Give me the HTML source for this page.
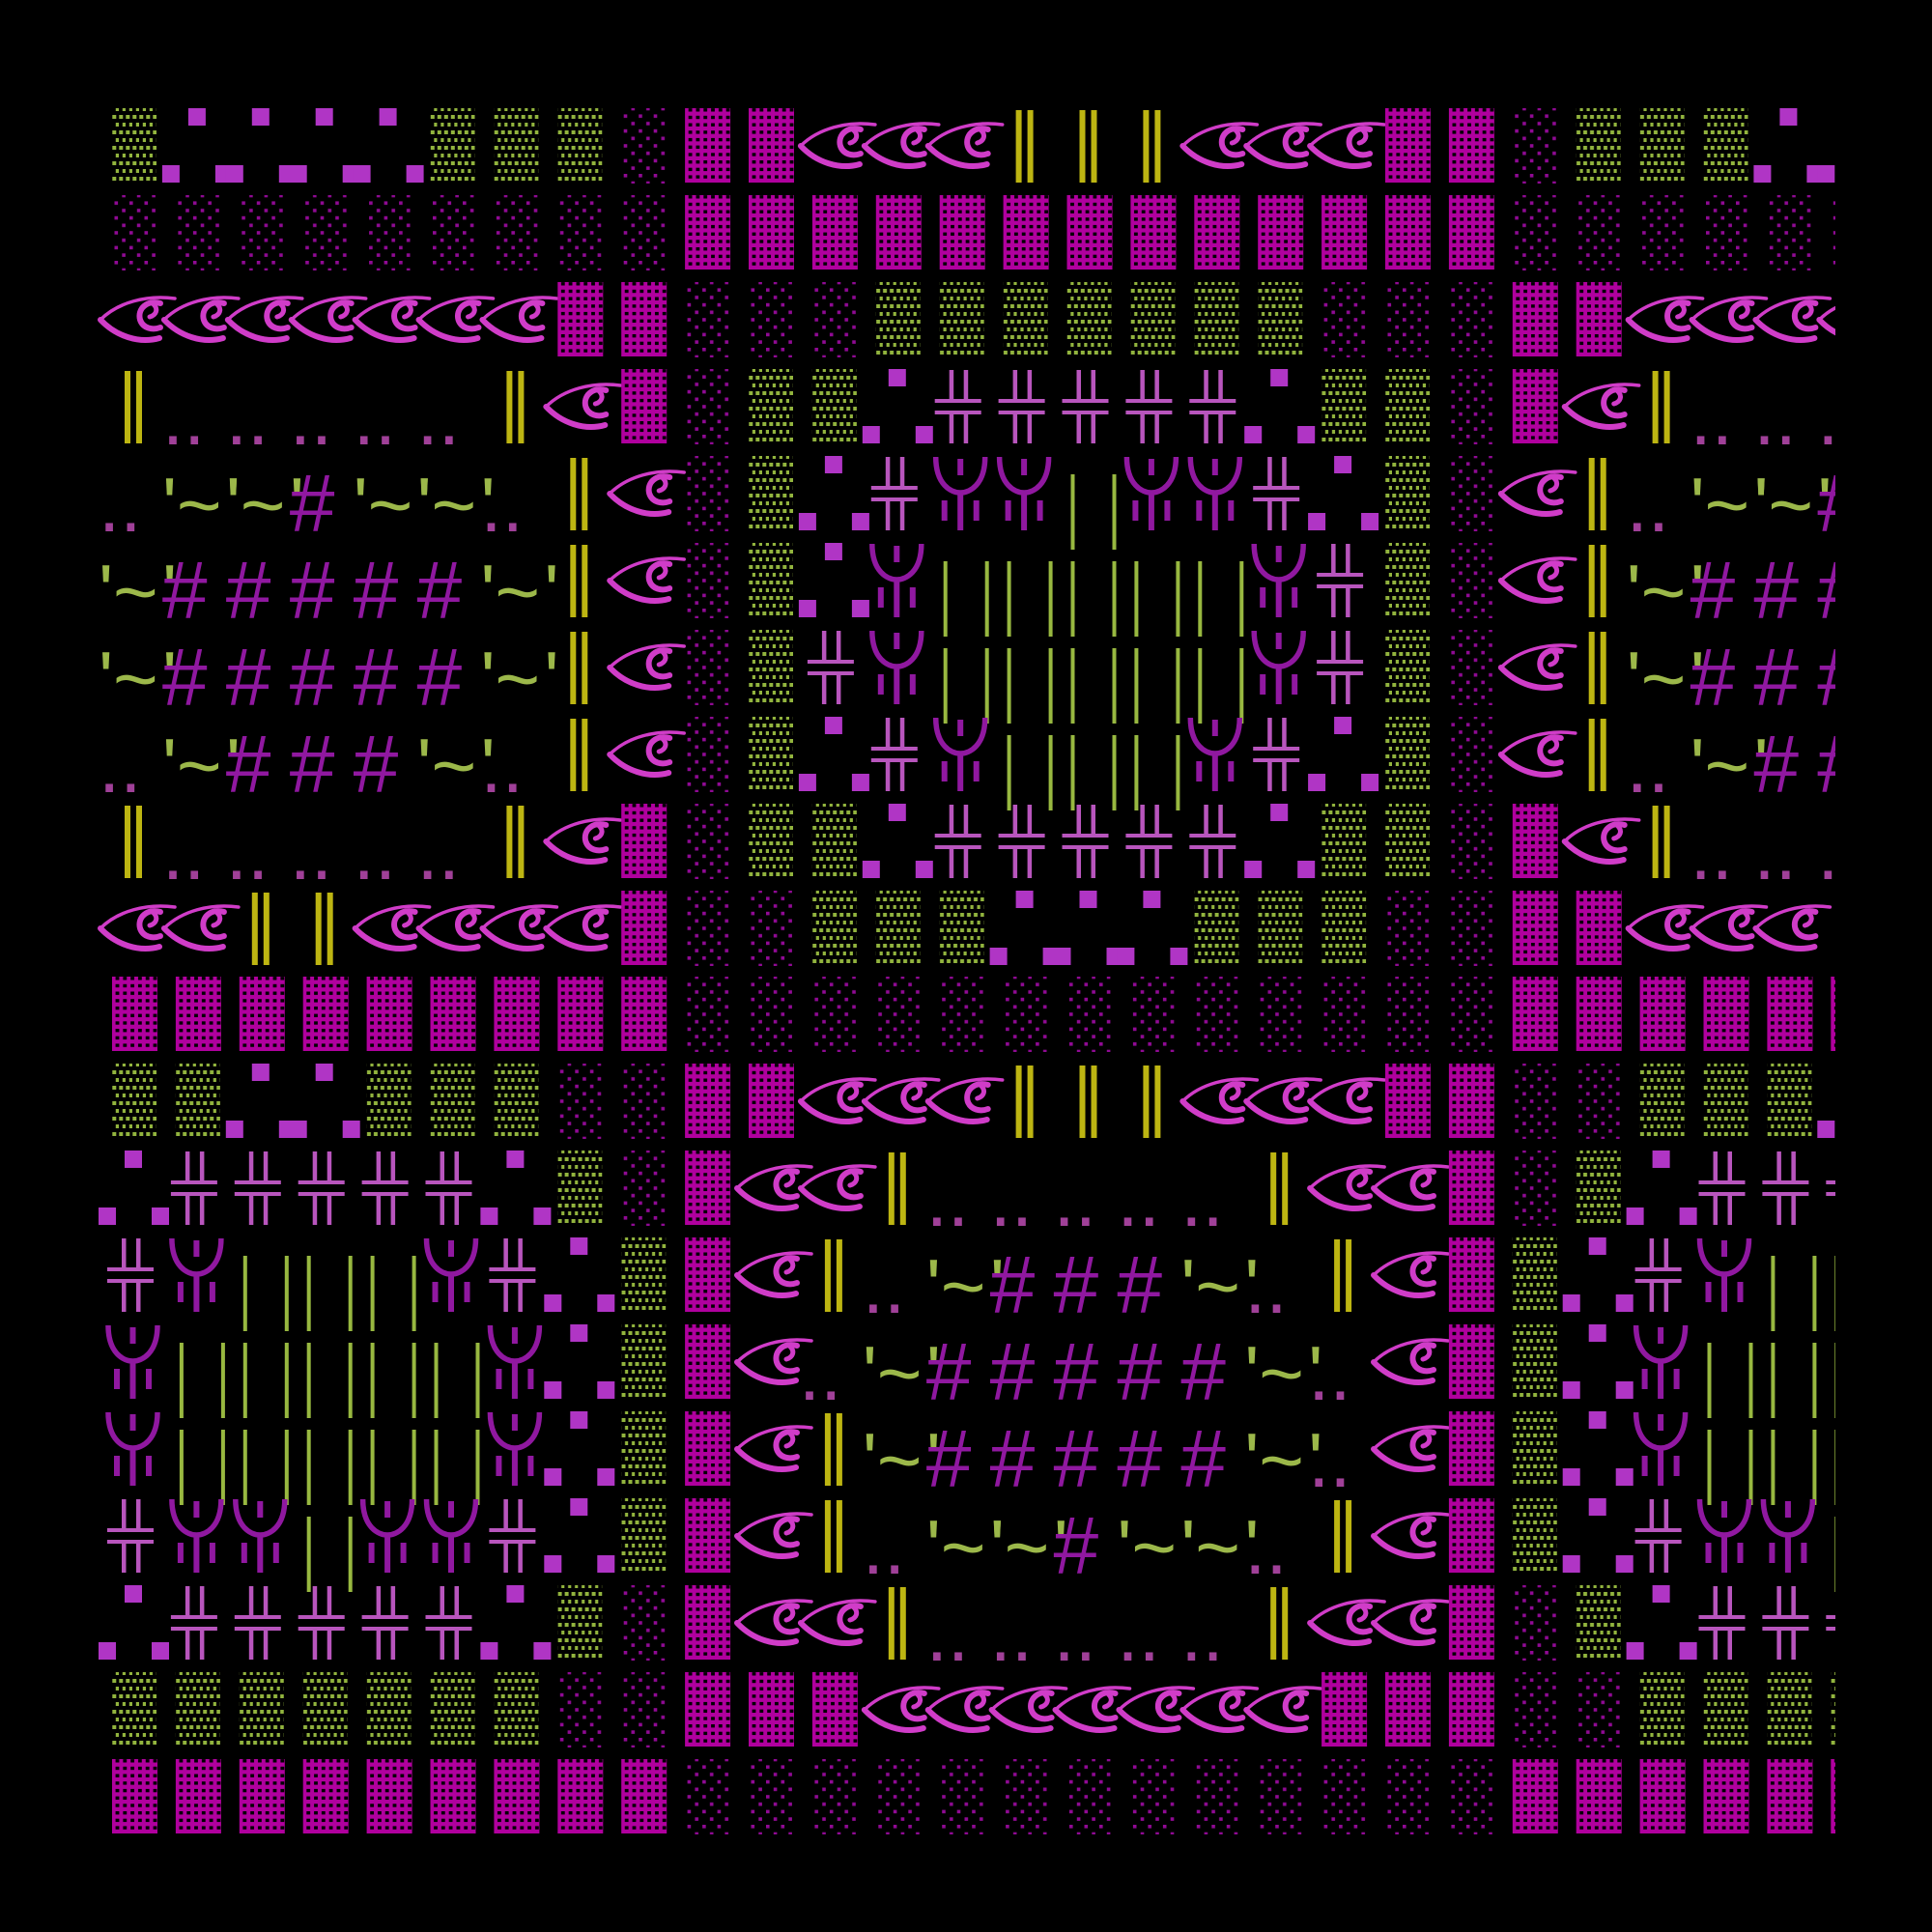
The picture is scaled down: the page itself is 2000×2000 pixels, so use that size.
<!DOCTYPE html>
<html><head><meta charset="utf-8"><style>
html,body{margin:0;padding:0;background:#000;width:2000px;height:2000px;overflow:hidden}
svg{display:block}
text{font-family:"Liberation Sans",sans-serif;font-size:80px}
</style></head><body>
<svg width="2000" height="2000" viewBox="0 0 2000 2000" xmlns="http://www.w3.org/2000/svg">
<defs>
<pattern id="pp" width="7.8" height="7.7" patternUnits="userSpaceOnUse"><rect width="7.8" height="7.7" fill="#b0009e"/><rect x="2" y="2.4" width="3.8" height="3.4" fill="#000"/></pattern>
<pattern id="gp" width="7" height="16" patternUnits="userSpaceOnUse"><rect x="0.3" y="1" width="4" height="4" fill="#92b43e"/><rect x="3.8" y="9" width="4" height="4" fill="#92b43e"/></pattern>
<pattern id="dp" width="15.5" height="15.4" patternUnits="userSpaceOnUse"><rect x="1" y="1" width="3.6" height="3.6" fill="#900a94"/><rect x="8.8" y="8.7" width="3.6" height="3.6" fill="#900a94"/></pattern>
<clipPath id="clip"><rect x="0" y="0" width="1900" height="2000"/></clipPath>
<g id="P"><rect x="14" y="10" width="47" height="77" fill="url(#pp)"/></g>
<g id="G"><rect x="14" y="10" width="46" height="78" fill="url(#gp)"/></g>
<g id="D"><rect x="14" y="10" width="47" height="78" fill="url(#dp)"/></g>
<g id="E" fill="none" stroke="#d03cc8" stroke-linecap="round">
<path d="M2,49 C20,31 50,23 79,27" stroke-width="3.5"/>
<path d="M2,49 C18,66 42,74 63,68" stroke-width="6"/>
<path d="M64,32 C50,28 40,38 43,49 C46,58 56,60 64,57" stroke-width="6"/>
<path d="M57,33 C62,38 60,44 53,46" stroke-width="5"/>
</g>
<g id="Y" fill="#bdb512"><rect x="27" y="12" width="6" height="75"/><rect x="39" y="12" width="6" height="75"/></g>
<g id="S" fill="#b035c5"><rect x="27" y="10" width="18" height="18"/><rect x="0" y="69" width="18" height="18"/><rect x="55" y="69" width="18" height="18"/></g>
<g id="X" fill="#b855bd"><rect x="9" y="41" width="48" height="4"/><rect x="9" y="53" width="48" height="4"/><rect x="24" y="11" width="4.5" height="32"/><rect x="39" y="11" width="4.5" height="32"/><rect x="24" y="55" width="4.5" height="32"/><rect x="39" y="55" width="4.5" height="32"/></g>
<g id="U" fill="#9018a0"><path d="M10,11 C10,40 26,48 35.5,48 C45,48 61,40 61,11" fill="none" stroke="#9018a0" stroke-width="5.5"/><rect x="32.5" y="46" width="6" height="41"/><rect x="32.5" y="13" width="6" height="17"/><rect x="16" y="56" width="6" height="21"/><rect x="49" y="56" width="6" height="21"/></g>
<g id="L" fill="#98b840"><rect x="18" y="29" width="4" height="78"/><rect x="61" y="29" width="4" height="78"/></g>
<g id="T" fill="#9cb84a"><text x="0 15 66" y="88">'~'</text></g>
<g id="H" fill="#9018a0"><text x="0" y="88" style="font-size:84px">#</text></g>
<g id="O" fill="#a04098"><text x="0" y="88">..</text></g>
</defs>
<rect width="2000" height="2000" fill="#000"/>
<g clip-path="url(#clip)">
<g transform="translate(102,102)">
<use href="#G" x="0"/><use href="#S" x="65.9"/><use href="#S" x="131.8"/><use href="#S" x="197.7"/><use href="#S" x="263.6"/><use href="#G" x="329.5"/><use href="#G" x="395.4"/><use href="#G" x="461.3"/><use href="#D" x="527.2"/><use href="#P" x="593.1"/><use href="#P" x="659"/><use href="#E" x="724.9"/><use href="#E" x="790.8"/><use href="#E" x="856.7"/><use href="#Y" x="922.6"/><use href="#Y" x="988.5"/><use href="#Y" x="1054.4"/><use href="#E" x="1120.3"/><use href="#E" x="1186.2"/><use href="#E" x="1252.1"/><use href="#P" x="1318"/><use href="#P" x="1383.9"/><use href="#D" x="1449.8"/><use href="#G" x="1515.7"/><use href="#G" x="1581.6"/><use href="#G" x="1647.5"/><use href="#S" x="1713.4"/><use href="#S" x="1779.3"/>
</g>
<g transform="translate(102,192)">
<use href="#D" x="0"/><use href="#D" x="65.9"/><use href="#D" x="131.8"/><use href="#D" x="197.7"/><use href="#D" x="263.6"/><use href="#D" x="329.5"/><use href="#D" x="395.4"/><use href="#D" x="461.3"/><use href="#D" x="527.2"/><use href="#P" x="593.1"/><use href="#P" x="659"/><use href="#P" x="724.9"/><use href="#P" x="790.8"/><use href="#P" x="856.7"/><use href="#P" x="922.6"/><use href="#P" x="988.5"/><use href="#P" x="1054.4"/><use href="#P" x="1120.3"/><use href="#P" x="1186.2"/><use href="#P" x="1252.1"/><use href="#P" x="1318"/><use href="#P" x="1383.9"/><use href="#D" x="1449.8"/><use href="#D" x="1515.7"/><use href="#D" x="1581.6"/><use href="#D" x="1647.5"/><use href="#D" x="1713.4"/><use href="#D" x="1779.3"/>
</g>
<g transform="translate(102,282)">
<use href="#E" x="0"/><use href="#E" x="65.9"/><use href="#E" x="131.8"/><use href="#E" x="197.7"/><use href="#E" x="263.6"/><use href="#E" x="329.5"/><use href="#E" x="395.4"/><use href="#P" x="461.3"/><use href="#P" x="527.2"/><use href="#D" x="593.1"/><use href="#D" x="659"/><use href="#D" x="724.9"/><use href="#G" x="790.8"/><use href="#G" x="856.7"/><use href="#G" x="922.6"/><use href="#G" x="988.5"/><use href="#G" x="1054.4"/><use href="#G" x="1120.3"/><use href="#G" x="1186.2"/><use href="#D" x="1252.1"/><use href="#D" x="1318"/><use href="#D" x="1383.9"/><use href="#P" x="1449.8"/><use href="#P" x="1515.7"/><use href="#E" x="1581.6"/><use href="#E" x="1647.5"/><use href="#E" x="1713.4"/><use href="#E" x="1779.3"/>
</g>
<g transform="translate(102,372)">
<use href="#Y" x="0"/><use href="#O" x="65.9"/><use href="#O" x="131.8"/><use href="#O" x="197.7"/><use href="#O" x="263.6"/><use href="#O" x="329.5"/><use href="#Y" x="395.4"/><use href="#E" x="461.3"/><use href="#P" x="527.2"/><use href="#D" x="593.1"/><use href="#G" x="659"/><use href="#G" x="724.9"/><use href="#S" x="790.8"/><use href="#X" x="856.7"/><use href="#X" x="922.6"/><use href="#X" x="988.5"/><use href="#X" x="1054.4"/><use href="#X" x="1120.3"/><use href="#S" x="1186.2"/><use href="#G" x="1252.1"/><use href="#G" x="1318"/><use href="#D" x="1383.9"/><use href="#P" x="1449.8"/><use href="#E" x="1515.7"/><use href="#Y" x="1581.6"/><use href="#O" x="1647.5"/><use href="#O" x="1713.4"/><use href="#O" x="1779.3"/>
</g>
<g transform="translate(102,462)">
<use href="#O" x="0"/><use href="#T" x="65.9"/><use href="#T" x="131.8"/><use href="#H" x="197.7"/><use href="#T" x="263.6"/><use href="#T" x="329.5"/><use href="#O" x="395.4"/><use href="#Y" x="461.3"/><use href="#E" x="527.2"/><use href="#D" x="593.1"/><use href="#G" x="659"/><use href="#S" x="724.9"/><use href="#X" x="790.8"/><use href="#U" x="856.7"/><use href="#U" x="922.6"/><use href="#L" x="988.5"/><use href="#U" x="1054.4"/><use href="#U" x="1120.3"/><use href="#X" x="1186.2"/><use href="#S" x="1252.1"/><use href="#G" x="1318"/><use href="#D" x="1383.9"/><use href="#E" x="1449.8"/><use href="#Y" x="1515.7"/><use href="#O" x="1581.6"/><use href="#T" x="1647.5"/><use href="#T" x="1713.4"/><use href="#H" x="1779.3"/>
</g>
<g transform="translate(102,552)">
<use href="#T" x="0"/><use href="#H" x="65.9"/><use href="#H" x="131.8"/><use href="#H" x="197.7"/><use href="#H" x="263.6"/><use href="#H" x="329.5"/><use href="#T" x="395.4"/><use href="#Y" x="461.3"/><use href="#E" x="527.2"/><use href="#D" x="593.1"/><use href="#G" x="659"/><use href="#S" x="724.9"/><use href="#U" x="790.8"/><use href="#L" x="856.7"/><use href="#L" x="922.6"/><use href="#L" x="988.5"/><use href="#L" x="1054.4"/><use href="#L" x="1120.3"/><use href="#U" x="1186.2"/><use href="#X" x="1252.1"/><use href="#G" x="1318"/><use href="#D" x="1383.9"/><use href="#E" x="1449.8"/><use href="#Y" x="1515.7"/><use href="#T" x="1581.6"/><use href="#H" x="1647.5"/><use href="#H" x="1713.4"/><use href="#H" x="1779.3"/>
</g>
<g transform="translate(102,642)">
<use href="#T" x="0"/><use href="#H" x="65.9"/><use href="#H" x="131.8"/><use href="#H" x="197.7"/><use href="#H" x="263.6"/><use href="#H" x="329.5"/><use href="#T" x="395.4"/><use href="#Y" x="461.3"/><use href="#E" x="527.2"/><use href="#D" x="593.1"/><use href="#G" x="659"/><use href="#X" x="724.9"/><use href="#U" x="790.8"/><use href="#L" x="856.7"/><use href="#L" x="922.6"/><use href="#L" x="988.5"/><use href="#L" x="1054.4"/><use href="#L" x="1120.3"/><use href="#U" x="1186.2"/><use href="#X" x="1252.1"/><use href="#G" x="1318"/><use href="#D" x="1383.9"/><use href="#E" x="1449.8"/><use href="#Y" x="1515.7"/><use href="#T" x="1581.6"/><use href="#H" x="1647.5"/><use href="#H" x="1713.4"/><use href="#H" x="1779.3"/>
</g>
<g transform="translate(102,732)">
<use href="#O" x="0"/><use href="#T" x="65.9"/><use href="#H" x="131.8"/><use href="#H" x="197.7"/><use href="#H" x="263.6"/><use href="#T" x="329.5"/><use href="#O" x="395.4"/><use href="#Y" x="461.3"/><use href="#E" x="527.2"/><use href="#D" x="593.1"/><use href="#G" x="659"/><use href="#S" x="724.9"/><use href="#X" x="790.8"/><use href="#U" x="856.7"/><use href="#L" x="922.6"/><use href="#L" x="988.5"/><use href="#L" x="1054.4"/><use href="#U" x="1120.3"/><use href="#X" x="1186.2"/><use href="#S" x="1252.1"/><use href="#G" x="1318"/><use href="#D" x="1383.9"/><use href="#E" x="1449.8"/><use href="#Y" x="1515.7"/><use href="#O" x="1581.6"/><use href="#T" x="1647.5"/><use href="#H" x="1713.4"/><use href="#H" x="1779.3"/>
</g>
<g transform="translate(102,822)">
<use href="#Y" x="0"/><use href="#O" x="65.9"/><use href="#O" x="131.8"/><use href="#O" x="197.7"/><use href="#O" x="263.6"/><use href="#O" x="329.5"/><use href="#Y" x="395.4"/><use href="#E" x="461.3"/><use href="#P" x="527.2"/><use href="#D" x="593.1"/><use href="#G" x="659"/><use href="#G" x="724.9"/><use href="#S" x="790.8"/><use href="#X" x="856.7"/><use href="#X" x="922.6"/><use href="#X" x="988.5"/><use href="#X" x="1054.4"/><use href="#X" x="1120.3"/><use href="#S" x="1186.2"/><use href="#G" x="1252.1"/><use href="#G" x="1318"/><use href="#D" x="1383.9"/><use href="#P" x="1449.8"/><use href="#E" x="1515.7"/><use href="#Y" x="1581.6"/><use href="#O" x="1647.5"/><use href="#O" x="1713.4"/><use href="#O" x="1779.3"/>
</g>
<g transform="translate(102,912)">
<use href="#E" x="0"/><use href="#E" x="65.9"/><use href="#Y" x="131.8"/><use href="#Y" x="197.7"/><use href="#E" x="263.6"/><use href="#E" x="329.5"/><use href="#E" x="395.4"/><use href="#E" x="461.3"/><use href="#P" x="527.2"/><use href="#D" x="593.1"/><use href="#D" x="659"/><use href="#G" x="724.9"/><use href="#G" x="790.8"/><use href="#G" x="856.7"/><use href="#S" x="922.6"/><use href="#S" x="988.5"/><use href="#S" x="1054.4"/><use href="#G" x="1120.3"/><use href="#G" x="1186.2"/><use href="#G" x="1252.1"/><use href="#D" x="1318"/><use href="#D" x="1383.9"/><use href="#P" x="1449.8"/><use href="#P" x="1515.7"/><use href="#E" x="1581.6"/><use href="#E" x="1647.5"/><use href="#E" x="1713.4"/>
</g>
<g transform="translate(102,1001)">
<use href="#P" x="0"/><use href="#P" x="65.9"/><use href="#P" x="131.8"/><use href="#P" x="197.7"/><use href="#P" x="263.6"/><use href="#P" x="329.5"/><use href="#P" x="395.4"/><use href="#P" x="461.3"/><use href="#P" x="527.2"/><use href="#D" x="593.1"/><use href="#D" x="659"/><use href="#D" x="724.9"/><use href="#D" x="790.8"/><use href="#D" x="856.7"/><use href="#D" x="922.6"/><use href="#D" x="988.5"/><use href="#D" x="1054.4"/><use href="#D" x="1120.3"/><use href="#D" x="1186.2"/><use href="#D" x="1252.1"/><use href="#D" x="1318"/><use href="#D" x="1383.9"/><use href="#P" x="1449.8"/><use href="#P" x="1515.7"/><use href="#P" x="1581.6"/><use href="#P" x="1647.5"/><use href="#P" x="1713.4"/><use href="#P" x="1779.3"/>
</g>
<g transform="translate(102,1091)">
<use href="#G" x="0"/><use href="#G" x="65.9"/><use href="#S" x="131.8"/><use href="#S" x="197.7"/><use href="#G" x="263.6"/><use href="#G" x="329.5"/><use href="#G" x="395.4"/><use href="#D" x="461.3"/><use href="#D" x="527.2"/><use href="#P" x="593.1"/><use href="#P" x="659"/><use href="#E" x="724.9"/><use href="#E" x="790.8"/><use href="#E" x="856.7"/><use href="#Y" x="922.6"/><use href="#Y" x="988.5"/><use href="#Y" x="1054.4"/><use href="#E" x="1120.3"/><use href="#E" x="1186.2"/><use href="#E" x="1252.1"/><use href="#P" x="1318"/><use href="#P" x="1383.9"/><use href="#D" x="1449.8"/><use href="#D" x="1515.7"/><use href="#G" x="1581.6"/><use href="#G" x="1647.5"/><use href="#G" x="1713.4"/><use href="#S" x="1779.3"/>
</g>
<g transform="translate(102,1181)">
<use href="#S" x="0"/><use href="#X" x="65.9"/><use href="#X" x="131.8"/><use href="#X" x="197.7"/><use href="#X" x="263.6"/><use href="#X" x="329.5"/><use href="#S" x="395.4"/><use href="#G" x="461.3"/><use href="#D" x="527.2"/><use href="#P" x="593.1"/><use href="#E" x="659"/><use href="#E" x="724.9"/><use href="#Y" x="790.8"/><use href="#O" x="856.7"/><use href="#O" x="922.6"/><use href="#O" x="988.5"/><use href="#O" x="1054.4"/><use href="#O" x="1120.3"/><use href="#Y" x="1186.2"/><use href="#E" x="1252.1"/><use href="#E" x="1318"/><use href="#P" x="1383.9"/><use href="#D" x="1449.8"/><use href="#G" x="1515.7"/><use href="#S" x="1581.6"/><use href="#X" x="1647.5"/><use href="#X" x="1713.4"/><use href="#X" x="1779.3"/>
</g>
<g transform="translate(102,1271)">
<use href="#X" x="0"/><use href="#U" x="65.9"/><use href="#L" x="131.8"/><use href="#L" x="197.7"/><use href="#L" x="263.6"/><use href="#U" x="329.5"/><use href="#X" x="395.4"/><use href="#S" x="461.3"/><use href="#G" x="527.2"/><use href="#P" x="593.1"/><use href="#E" x="659"/><use href="#Y" x="724.9"/><use href="#O" x="790.8"/><use href="#T" x="856.7"/><use href="#H" x="922.6"/><use href="#H" x="988.5"/><use href="#H" x="1054.4"/><use href="#T" x="1120.3"/><use href="#O" x="1186.2"/><use href="#Y" x="1252.1"/><use href="#E" x="1318"/><use href="#P" x="1383.9"/><use href="#G" x="1449.8"/><use href="#S" x="1515.7"/><use href="#X" x="1581.6"/><use href="#U" x="1647.5"/><use href="#L" x="1713.4"/><use href="#L" x="1779.3"/>
</g>
<g transform="translate(102,1361)">
<use href="#U" x="0"/><use href="#L" x="65.9"/><use href="#L" x="131.8"/><use href="#L" x="197.7"/><use href="#L" x="263.6"/><use href="#L" x="329.5"/><use href="#U" x="395.4"/><use href="#S" x="461.3"/><use href="#G" x="527.2"/><use href="#P" x="593.1"/><use href="#E" x="659"/><use href="#O" x="724.9"/><use href="#T" x="790.8"/><use href="#H" x="856.7"/><use href="#H" x="922.6"/><use href="#H" x="988.5"/><use href="#H" x="1054.4"/><use href="#H" x="1120.3"/><use href="#T" x="1186.2"/><use href="#O" x="1252.1"/><use href="#E" x="1318"/><use href="#P" x="1383.9"/><use href="#G" x="1449.8"/><use href="#S" x="1515.7"/><use href="#U" x="1581.6"/><use href="#L" x="1647.5"/><use href="#L" x="1713.4"/><use href="#L" x="1779.3"/>
</g>
<g transform="translate(102,1451)">
<use href="#U" x="0"/><use href="#L" x="65.9"/><use href="#L" x="131.8"/><use href="#L" x="197.7"/><use href="#L" x="263.6"/><use href="#L" x="329.5"/><use href="#U" x="395.4"/><use href="#S" x="461.3"/><use href="#G" x="527.2"/><use href="#P" x="593.1"/><use href="#E" x="659"/><use href="#Y" x="724.9"/><use href="#T" x="790.8"/><use href="#H" x="856.7"/><use href="#H" x="922.6"/><use href="#H" x="988.5"/><use href="#H" x="1054.4"/><use href="#H" x="1120.3"/><use href="#T" x="1186.2"/><use href="#O" x="1252.1"/><use href="#E" x="1318"/><use href="#P" x="1383.9"/><use href="#G" x="1449.8"/><use href="#S" x="1515.7"/><use href="#U" x="1581.6"/><use href="#L" x="1647.5"/><use href="#L" x="1713.4"/><use href="#L" x="1779.3"/>
</g>
<g transform="translate(102,1541)">
<use href="#X" x="0"/><use href="#U" x="65.9"/><use href="#U" x="131.8"/><use href="#L" x="197.7"/><use href="#U" x="263.6"/><use href="#U" x="329.5"/><use href="#X" x="395.4"/><use href="#S" x="461.3"/><use href="#G" x="527.2"/><use href="#P" x="593.1"/><use href="#E" x="659"/><use href="#Y" x="724.9"/><use href="#O" x="790.8"/><use href="#T" x="856.7"/><use href="#T" x="922.6"/><use href="#H" x="988.5"/><use href="#T" x="1054.4"/><use href="#T" x="1120.3"/><use href="#O" x="1186.2"/><use href="#Y" x="1252.1"/><use href="#E" x="1318"/><use href="#P" x="1383.9"/><use href="#G" x="1449.8"/><use href="#S" x="1515.7"/><use href="#X" x="1581.6"/><use href="#U" x="1647.5"/><use href="#U" x="1713.4"/><use href="#L" x="1779.3"/>
</g>
<g transform="translate(102,1631)">
<use href="#S" x="0"/><use href="#X" x="65.9"/><use href="#X" x="131.8"/><use href="#X" x="197.7"/><use href="#X" x="263.6"/><use href="#X" x="329.5"/><use href="#S" x="395.4"/><use href="#G" x="461.3"/><use href="#D" x="527.2"/><use href="#P" x="593.1"/><use href="#E" x="659"/><use href="#E" x="724.9"/><use href="#Y" x="790.8"/><use href="#O" x="856.7"/><use href="#O" x="922.6"/><use href="#O" x="988.5"/><use href="#O" x="1054.4"/><use href="#O" x="1120.3"/><use href="#Y" x="1186.2"/><use href="#E" x="1252.1"/><use href="#E" x="1318"/><use href="#P" x="1383.9"/><use href="#D" x="1449.8"/><use href="#G" x="1515.7"/><use href="#S" x="1581.6"/><use href="#X" x="1647.5"/><use href="#X" x="1713.4"/><use href="#X" x="1779.3"/>
</g>
<g transform="translate(102,1721)">
<use href="#G" x="0"/><use href="#G" x="65.9"/><use href="#G" x="131.8"/><use href="#G" x="197.7"/><use href="#G" x="263.6"/><use href="#G" x="329.5"/><use href="#G" x="395.4"/><use href="#D" x="461.3"/><use href="#D" x="527.2"/><use href="#P" x="593.1"/><use href="#P" x="659"/><use href="#P" x="724.9"/><use href="#E" x="790.8"/><use href="#E" x="856.7"/><use href="#E" x="922.6"/><use href="#E" x="988.5"/><use href="#E" x="1054.4"/><use href="#E" x="1120.3"/><use href="#E" x="1186.2"/><use href="#P" x="1252.1"/><use href="#P" x="1318"/><use href="#P" x="1383.9"/><use href="#D" x="1449.8"/><use href="#D" x="1515.7"/><use href="#G" x="1581.6"/><use href="#G" x="1647.5"/><use href="#G" x="1713.4"/><use href="#G" x="1779.3"/>
</g>
<g transform="translate(102,1811)">
<use href="#P" x="0"/><use href="#P" x="65.9"/><use href="#P" x="131.8"/><use href="#P" x="197.7"/><use href="#P" x="263.6"/><use href="#P" x="329.5"/><use href="#P" x="395.4"/><use href="#P" x="461.3"/><use href="#P" x="527.2"/><use href="#D" x="593.1"/><use href="#D" x="659"/><use href="#D" x="724.9"/><use href="#D" x="790.8"/><use href="#D" x="856.7"/><use href="#D" x="922.6"/><use href="#D" x="988.5"/><use href="#D" x="1054.4"/><use href="#D" x="1120.3"/><use href="#D" x="1186.2"/><use href="#D" x="1252.1"/><use href="#D" x="1318"/><use href="#D" x="1383.9"/><use href="#P" x="1449.8"/><use href="#P" x="1515.7"/><use href="#P" x="1581.6"/><use href="#P" x="1647.5"/><use href="#P" x="1713.4"/><use href="#P" x="1779.3"/>
</g>
</g>
</svg>
</body></html>
